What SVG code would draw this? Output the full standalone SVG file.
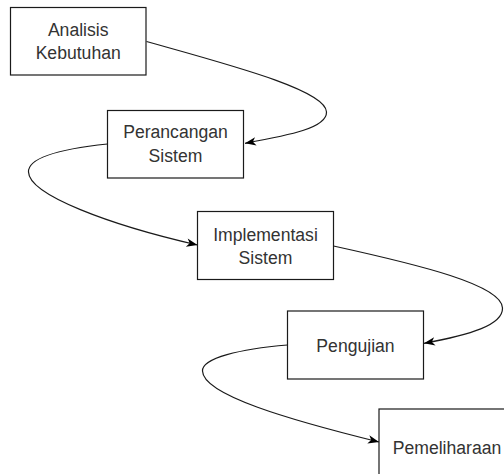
<svg xmlns="http://www.w3.org/2000/svg" width="504" height="474" viewBox="0 0 504 474">
  <style>
    .box { fill: #ffffff; stroke: #1a1a1a; stroke-width: 1.2; }
    .lbl { font-family: "Liberation Sans", Arial, sans-serif; font-size: 17.6px; fill: #333333; text-anchor: middle; }
    .edge { fill: none; stroke: #1a1a1a; stroke-width: 1.2; marker-end: url(#arrow); }
  </style>
  <defs>
    <marker id="arrow" markerUnits="userSpaceOnUse" markerWidth="13" markerHeight="10" refX="12" refY="5" orient="auto">
      <path d="M1,0.8 L12,5 L1,9.2 L4,5 Z" fill="#000000"/>
    </marker>
  </defs>
  <rect width="504" height="474" fill="#ffffff"/>
  <g id="connectors">
    <path class="edge" d="M146.5,41.5 C230,65 326,90 326.5,112 C327,128 290,135 245,143.3"/>
    <path class="edge" d="M107.5,144 C60,149 28,158 28.5,172 C29,195 110,225 197.5,245"/>
    <path class="edge" d="M333.5,246 C420,265 502,285 502.5,308 C503,325 470,335 424,343.3"/>
    <path class="edge" d="M287.5,345 C240,349 202,358 202.5,371 C203,395 290,420 379,442"/>
  </g>
  <g id="analisis-kebutuhan">
    <rect class="box" x="10.5" y="7.5" width="135.5" height="67.5"/>
    <text class="lbl" x="78.2" y="36">Analisis</text>
    <text class="lbl" x="78.2" y="59.3">Kebutuhan</text>
  </g>
  <g id="perancangan-sistem">
    <rect class="box" x="107.5" y="110.5" width="136" height="67.5"/>
    <text class="lbl" x="175.5" y="138.3">Perancangan</text>
    <text class="lbl" x="175.5" y="161.6">Sistem</text>
  </g>
  <g id="implementasi-sistem">
    <rect class="box" x="197.5" y="211.5" width="136" height="68"/>
    <text class="lbl" x="265.5" y="240.5">Implementasi</text>
    <text class="lbl" x="265.5" y="263.5">Sistem</text>
  </g>
  <g id="pengujian">
    <rect class="box" x="287.5" y="311" width="136" height="68"/>
    <text class="lbl" x="355.5" y="351.5">Pengujian</text>
  </g>
  <g id="pemeliharaan">
    <rect class="box" x="379" y="409" width="136" height="68"/>
    <text class="lbl" x="447" y="454">Pemeliharaan</text>
  </g>
</svg>
